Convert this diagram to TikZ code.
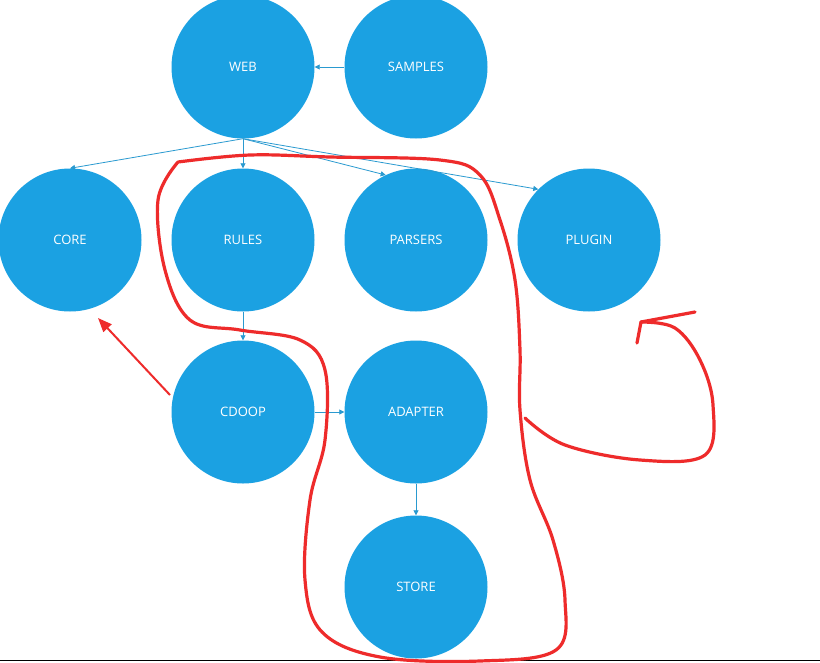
\documentclass[tikz,border=0pt]{standalone}
\usepackage{fontspec}
\setmainfont{Open Sans}
\usetikzlibrary{arrows.meta}
\begin{document}
\begin{tikzpicture}[x=1pt,y=-1pt,
  mod/.style={circle,fill=cblue,minimum size=143pt,inner sep=0pt,text=white,font=\fontsize{13}{15}\selectfont},
  link/.style={draw=linkc,line width=0.8pt,-{Triangle[length=5pt,width=5pt]}},
  ink/.style={draw=inkred,line width=3.2pt,line cap=round,line join=round}]
\definecolor{cblue}{HTML}{1BA1E2}
\definecolor{linkc}{HTML}{2A9AD0}
\definecolor{inkred}{HTML}{EE2B2B}
\useasboundingbox (0,0) rectangle (820,662);
\fill[white] (0,0) rectangle (820,662);
\node[mod] (web) at (243,67) {WEB};
\node[mod] (samples) at (416,67) {SAMPLES};
\node[mod] (core) at (70,240) {CORE};
\node[mod] (rules) at (243,240) {RULES};
\node[mod] (parsers) at (416,240) {PARSERS};
\node[mod] (plugin) at (589,240) {PLUGIN};
\node[mod] (cdoop) at (243,412) {CDOOP};
\node[mod] (adapter) at (416,412) {ADAPTER};
\node[mod] (store) at (416,587) {STORE};
\draw[link] (samples) -- (web);
\draw[link] (web.south) -- (core.north);
\draw[link] (web.south) -- (rules.north);
\draw[link] (web.south) -- (parsers.115);
\draw[link] (web.south) -- (plugin.135);
\draw[link] (rules) -- (cdoop);
\draw[link] (cdoop) -- (adapter);
\draw[link] (adapter) -- (store);
\draw[black,line width=1pt] (0,660) -- (820,660);
\coordinate (rs) at (170,395);
\coordinate (re) at (98,318);
\draw[inkred,line width=2pt,-{Triangle[length=14pt,width=11pt]}] (rs) -- (re);
\draw[ink] plot[smooth,tension=0.6] coordinates {(178,162) (250,155) (330,157) (440,160) (480,175) (500,220) (515,280) (520,350) (520,410) (530,480) (553,540) (565,600) (556,650) (480,661) (380,657) (322,632) (305,580) (310,500) (325,440) (325,370) (300,340) (240,330) (190,320) (165,270) (158,200) (178,162)};
\draw[ink] plot[smooth,tension=0.6] coordinates {(525,418) (565,445) (640,460) (705,455) (713,405) (700,360) (675,328) (641,322)};
\draw[ink] (695,312) -- (641,322) -- (637,343);
\end{tikzpicture}
\end{document}
